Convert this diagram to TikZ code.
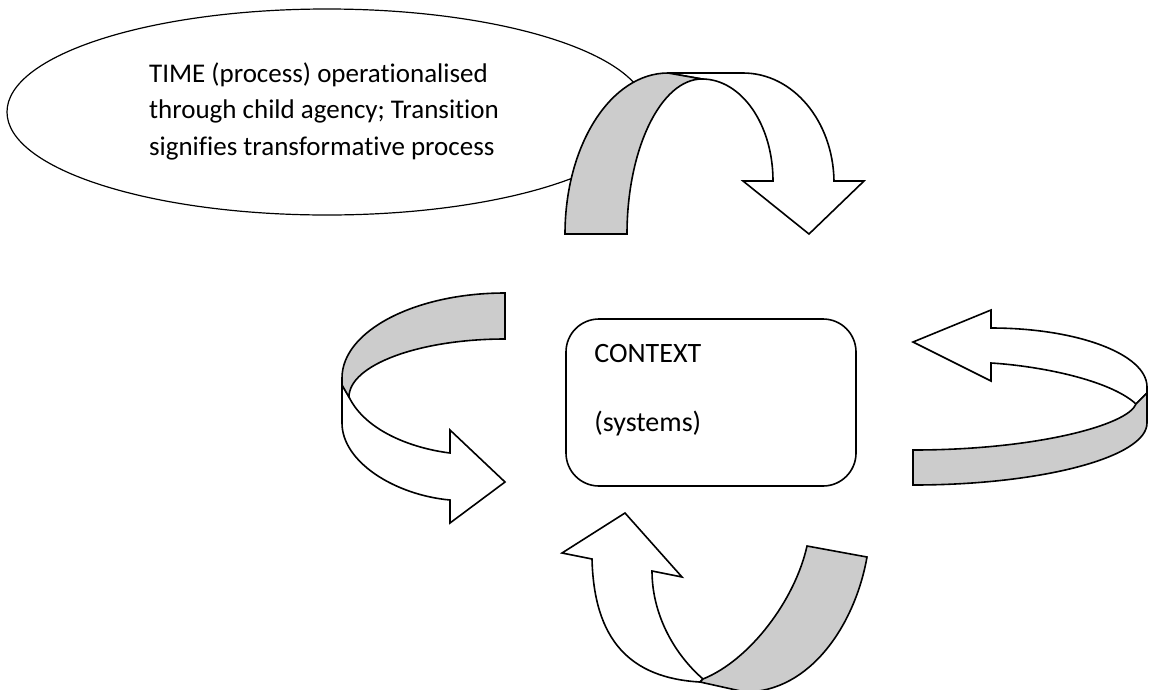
\documentclass[tikz,border=0pt]{standalone}
\usepackage{fontspec}
\setmainfont{Carlito}[Ligatures=NoCommon]
\usetikzlibrary{shapes.geometric,calc,positioning}

\tikzset{
  front/.style={draw, line width=1.6pt, fill=white, line join=miter},
  back/.style={front, fill=black!20},
  txt/.style={font=\fontsize{27}{36.5}\selectfont, align=left, inner sep=0pt}
}

\begin{document}
\begin{tikzpicture}[x=1pt,y=-1pt]
  \useasboundingbox (0,0) rectangle (1153,689);

  % Time ellipse
  \node[ellipse, draw, line width=1.2pt, fill=white,
        minimum width=640pt, minimum height=206pt] (time) at (327,112) {};
  \node[txt] (timetext) at ($(time.center)+(-3,-1)$)
    {TIME (process) operationalised\\through child agency; Transition\\signifies transformative process};

  % Top arrow
  \path[front] (668,73) -- (743,73) .. controls (793,73) and (833,121) .. (834,181)
    -- (864,181) -- (809,234) -- (743,181) -- (773,181)
    .. controls (773,124) and (741,79) .. (702,79) -- cycle;
  \path[back] (565,234) .. controls (565,145) and (611,73) .. (668,73)
    -- (702,79) .. controls (661,79) and (627,149) .. (627,234) -- cycle;

  % Left arrow
  \path[front] (342,385) -- (342,423) .. controls (342,462) and (395,495) .. (450,500)
    -- (450,523) -- (505,482) -- (450,430) -- (450,453)
    .. controls (410,448) and (365,430) .. (349,397) -- cycle;
  \path[back] (505,293) .. controls (415,293) and (342,331) .. (342,378)
    -- (342,385) -- (349,397) .. controls (349,365) and (419,339) .. (505,339) -- cycle;

  % Right arrow
  \path[front] (991,328) .. controls (1077,328) and (1147,354) .. (1147,387)
    -- (1147,393) -- (1136,404) .. controls (1110,380) and (1040,366) .. (991,363)
    -- (991,381) -- (913,342) -- (991,310) -- cycle;
  \path[back] (1147,393) -- (1147,423) .. controls (1147,457) and (1042,485) .. (913,485)
    -- (913,450) .. controls (1036,450) and (1128,425) .. (1136,404) -- cycle;

  % Bottom arrow
  \path[front] (592,559) .. controls (594,640) and (630,678) .. (700,682)
    -- (703,679) .. controls (672,652) and (652,612) .. (652,571)
    -- (682,577) -- (625,513) -- (562,553) -- cycle;
  \path[back] (703,679) .. controls (750,660) and (795,600) .. (807,546)
    -- (867,557) .. controls (855,625) and (810,692) .. (745,692) -- (700,682) -- cycle;

  % Context box
  \node[draw, line width=1.6pt, rounded corners=33pt, minimum width=290pt,
        minimum height=167pt] (ctx) at (711,402.5) {};
  \node[txt, anchor=north west, font=\fontsize{28}{34.5}\selectfont]
    (ctxtext) at ($(ctx.north west)+(29,26)$) {CONTEXT\\[34.5pt](systems)};
\end{tikzpicture}
\end{document}
